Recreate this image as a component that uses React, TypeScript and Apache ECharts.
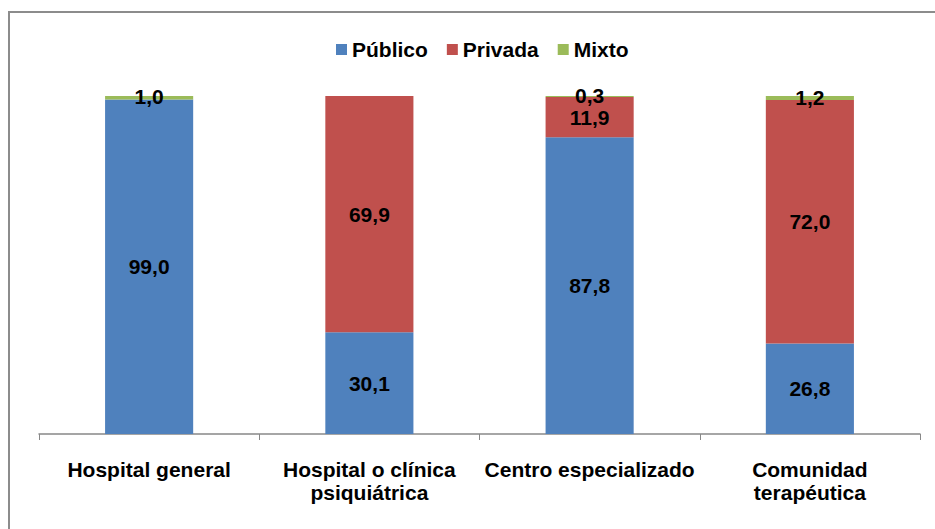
import React, { useEffect, useRef } from "react";
import * as echarts from "echarts";

const categories = [
  "Hospital general",
  "Hospital o clínica\npsiquiátrica",
  "Centro especializado",
  "Comunidad\nterapéutica",
];
const publico = [99.0, 30.1, 87.8, 26.8];
const privada = [0, 69.9, 11.9, 72.0];
const mixto = [1.0, 0, 0.3, 1.2];
const seriesNames = ["Público", "Privada", "Mixto"];
const colors = ["#4F81BD", "#C0504D", "#9BBB59"];

const FONT = "Arial, 'Liberation Sans', sans-serif";
const FS = 21;

export default function App() {
  const ref = useRef<HTMLDivElement>(null);
  useEffect(() => {
    document.body.style.margin = "0";
    const chart = echarts.init(ref.current!, null, { renderer: "svg" });
    const fmt = (p: any) =>
      p.value ? Number(p.value).toFixed(1).replace(".", ",") : "";
    const mk = (name: string, data: number[], i: number) => ({
      name,
      type: "bar",
      stack: "total",
      barWidth: "40%",
      data,
      itemStyle: { color: colors[i] },
      label: {
        show: true,
        position: "inside",
        formatter: fmt,
        color: "#000",
        fontWeight: "bold",
        fontSize: FS,
        lineHeight: 17,
        fontFamily: FONT,
      },
      labelLayout: i === 2 ? { dy: -1 } : undefined,
    });
    chart.setOption({
      animation: false,
      textStyle: { fontFamily: FONT },
      graphic: [
        {
          type: "rect",
          shape: { x: 9, y: 12, width: 1000, height: 600 },
          style: { fill: "none", stroke: "#8c8c8c", lineWidth: 2 },
          silent: true,
        },
      ],
      legend: {
        data: seriesNames,
        left: 331,
        top: 34,
        icon: "rect",
        itemWidth: 11,
        itemHeight: 11,
        itemGap: 19,
        textStyle: {
          fontFamily: FONT,
          fontSize: FS,
          fontWeight: "bold",
          color: "#000",
        },
      },
      grid: { left: 39, right: 15, top: 96, bottom: 95 },
      xAxis: {
        type: "category",
        data: categories,
        axisLine: { lineStyle: { color: "#888", width: 1.5 } },
        axisTick: { show: true, length: 6, lineStyle: { color: "#888" } },
        axisLabel: {
          color: "#000",
          fontWeight: "bold",
          fontSize: FS,
          fontFamily: FONT,
          margin: 24,
          lineHeight: 23,
          interval: 0,
        },
      },
      yAxis: {
        type: "value",
        min: 0,
        max: 100,
        show: false,
      },
      series: [
        mk(seriesNames[0], publico, 0),
        mk(seriesNames[1], privada, 1),
        mk(seriesNames[2], mixto, 2),
      ],
    });
    return () => chart.dispose();
  }, []);
  return (
    <div
      ref={ref}
      style={{ position: "absolute", left: 0, top: 0, width: 935, height: 529 }}
    />
  );
}
